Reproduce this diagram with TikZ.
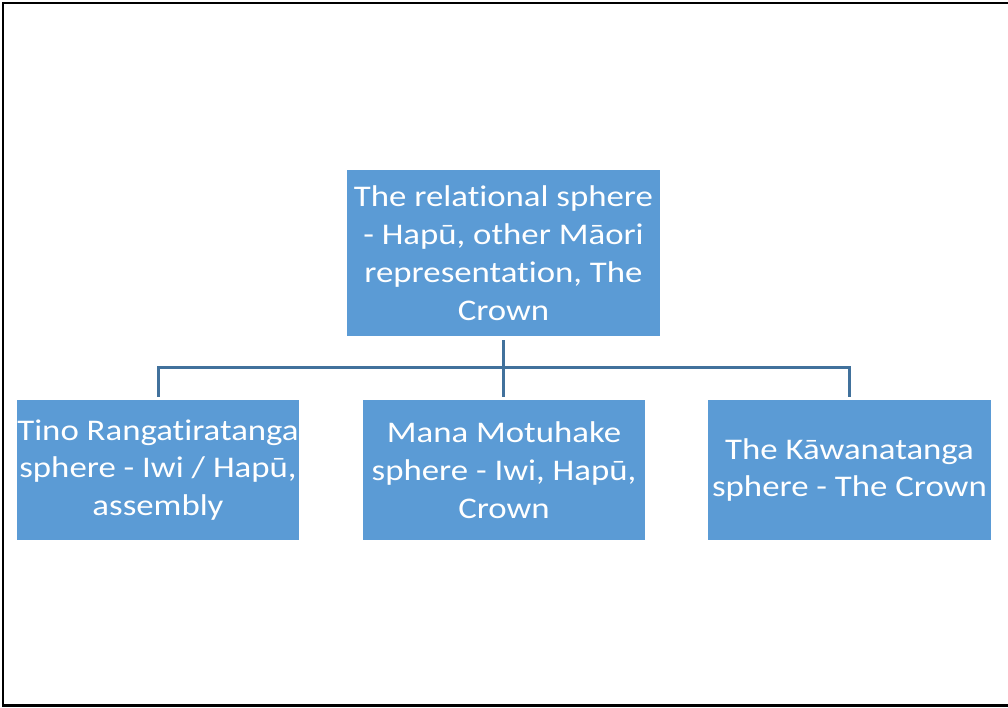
\documentclass[tikz,border=0pt]{standalone}
\usepackage{fontspec}
\setmainfont{Carlito}[Ligatures=NoCommon, FakeStretch=1.16]
\definecolor{boxblue}{HTML}{5B9BD5}
\definecolor{linkblue}{HTML}{41719C}
\begin{document}
\begin{tikzpicture}[x=1pt,y=-1pt,
  sphere/.style={fill=boxblue, draw=none, text=white, align=center,
    inner sep=0pt, font=\fontsize{30}{37.8}\selectfont},
  link/.style={draw=linkblue, line width=3pt, shorten <=4pt, shorten >=3pt}]
  \useasboundingbox (0,0) rectangle (1008,708);
  % outer frame
  \draw[line width=2.5pt] (1020,3) -- (3,3) -- (3,705.5) -- (1020,705.5);
  % boxes
  \node[sphere, minimum width=313pt, minimum height=166pt] (top) at (503.5,253)
    {The relational sphere\\- Hapū, other Māori\\representation, The\\Crown};
  \node[sphere, minimum width=282pt, minimum height=140pt] (left) at (158,470)
    {Tino Rangatiratanga\\sphere - Iwi / Hapū,\\assembly};
  \node[sphere, minimum width=282pt, minimum height=140pt] (mid) at (504,470)
    {Mana Motuhake\\sphere - Iwi, Hapū,\\Crown};
  \node[sphere, minimum width=283pt, minimum height=140pt] (right) at (849.5,470)
    {The Kāwanatanga\\sphere - The Crown};
  % connectors
  \draw[link] (top.south) -- ++(0,31.5) -| (left.north);
  \draw[link] (top.south) -- ++(0,31.5) -| (right.north);
  \draw[link] (top.south) -- (top.south |- mid.north);
\end{tikzpicture}
\end{document}
